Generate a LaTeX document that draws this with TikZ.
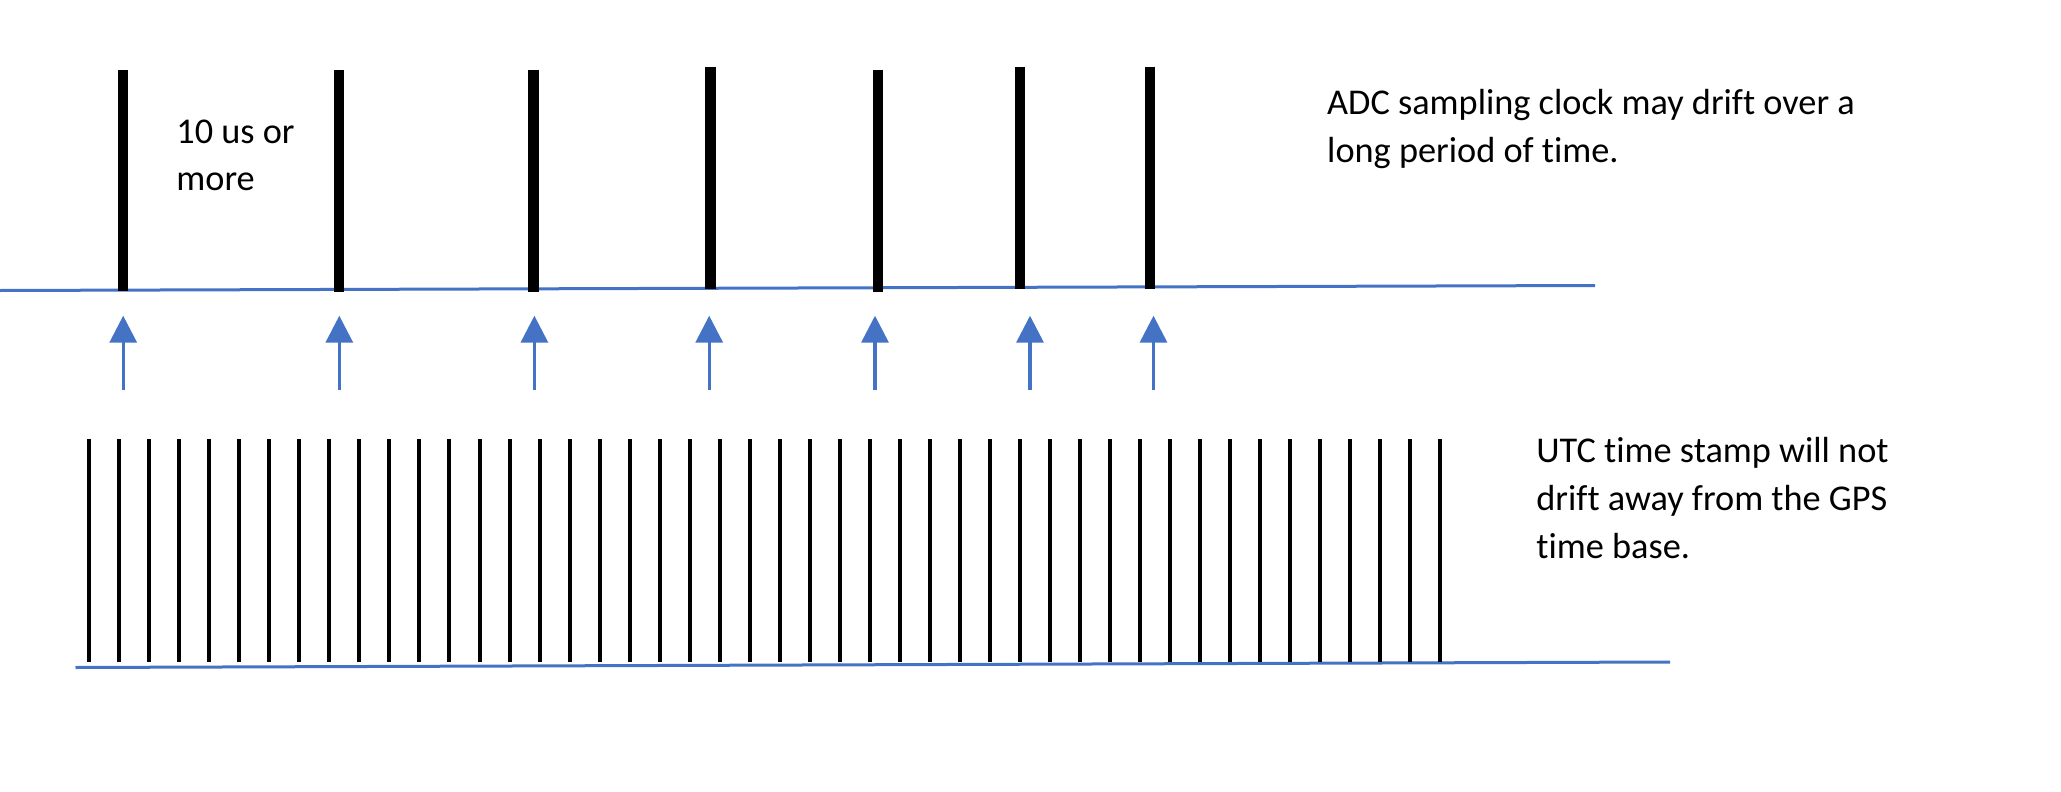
\documentclass[tikz,border=0pt]{standalone}
\usepackage{fontspec}
\setmainfont{Carlito}[Ligatures={NoCommon,NoContextual}]
\usetikzlibrary{arrows.meta}
\definecolor{lineblue}{HTML}{4472C4}
\begin{document}
\begin{tikzpicture}[x=0.5pt,y=-0.5pt,
  bigtick/.style={line width=5.2pt, black},
  smalltick/.style={line width=2pt, black},
  axisline/.style={line width=1.5pt, lineblue},
  syncarrow/.style={line width=1.7pt, lineblue, -{Triangle[width=13.5pt,length=13.5pt]}},
  lbl/.style={inner sep=0pt, anchor=base west, align=left, font=\fontsize{18.15}{23.85}\selectfont}
]
\useasboundingbox (0,0) rectangle (2061,792);
% top axis
\coordinate (tl0) at (0,290.5);
\coordinate (tl1) at (1595,285.5);
\draw[axisline] (tl0) -- (tl1);
% ADC sampling ticks
\foreach \n/\x/\t/\b in {1/123/70/291, 2/339/70/291.5, 3/533.5/70/291.5, 4/710.3/66.7/289.3, 5/878/70/291.5, 6/1019.7/66.7/289.3, 7/1150/66.7/289.3}{
  \coordinate (tt\n) at (\x,\t);
  \coordinate (tb\n) at (\x,\b);
  \draw[bigtick] (tt\n) -- (tb\n);
}
% arrows
\foreach \n/\x in {1/123.2, 2/339.3, 3/534.4, 4/709.2, 5/875, 6/1030, 7/1153.5}{
  \coordinate (as\n) at (\x,390);
  \coordinate (ae\n) at (\x,315.7);
  \draw[syncarrow] (as\n) -- (ae\n);
}
% bottom axis
\coordinate (bl0) at (75.5,667.5);
\coordinate (bl1) at (1670,662);
\draw[axisline] (bl0) -- (bl1);
% UTC ticks
\foreach \i in {0,...,45}{
  \coordinate (ut\i) at ({89.3+30.015*\i},439.3);
  \coordinate (ub\i) at ({89.3+30.015*\i},662.3);
  \draw[smalltick] (ut\i) -- (ub\i);
}
% texts (base anchor = baseline of last line)
\node[lbl] (gap) at (176,190.7) {10 us or\\more};
\node[lbl] (adc) at (1326.8,162.3) {ADC sampling clock may drift over a\\long period of time.};
\node[lbl] (utc) at (1536,558.3) {UTC time stamp will not\\drift away from the GPS\\time base.};
\end{tikzpicture}
\end{document}
